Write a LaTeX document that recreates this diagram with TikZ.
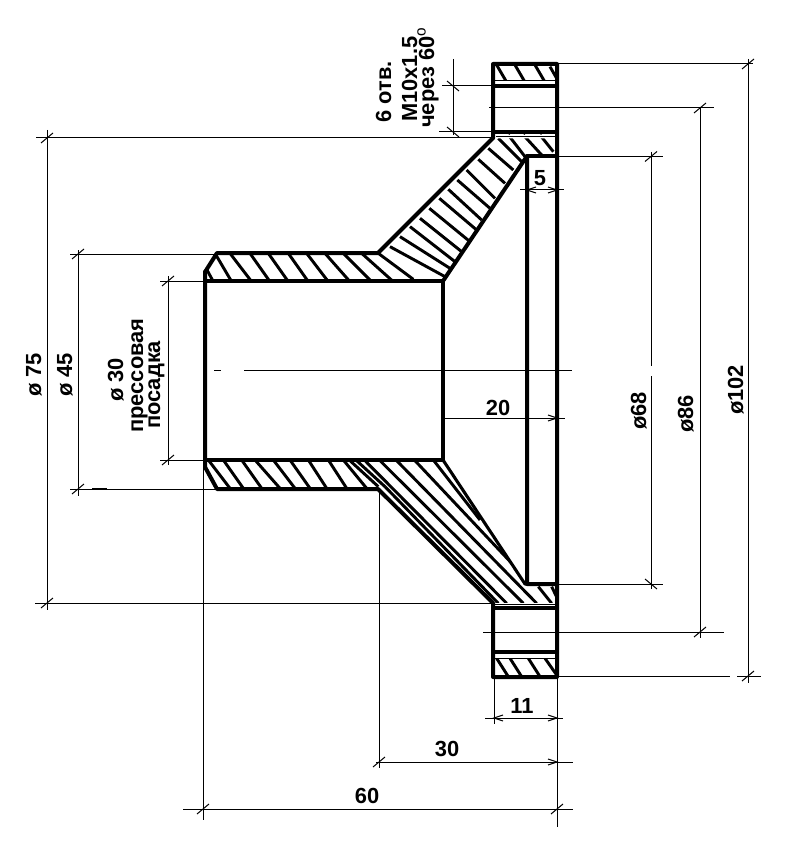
\documentclass[tikz,border=0pt]{standalone}
\usepackage{fontspec}
\setmainfont{Liberation Sans}
\newcommand{\hatchset}[3]{\foreach \a/\b/\c/\d in {#3}{\draw[hatchline] ({#1+\a/3},{#2+\b/3}) -- ({#1+\c/3},{#2+\d/3});}}
\newcommand{\tickup}[2]{\draw[thinline] ({#1-6},{#2+5}) -- ({#1+6},{#2-5});}
\newcommand{\tickdn}[2]{\draw[thinline] ({#1-6},{#2-5}) -- ({#1+6},{#2+5});}
\newcommand{\openR}[2]{\draw[thinline] ({#1-9},{#2-3}) -- (#1,#2) -- ({#1-9},{#2+3});}
\newcommand{\openL}[2]{\draw[thinline] ({#1+9},{#2-3}) -- (#1,#2) -- ({#1+9},{#2+3});}
\tikzset{
  thinline/.style={line width=0.75pt,black},
  hatchline/.style={line width=2.2pt,black},
  contour/.style={line width=3pt,black,line join=round,line cap=round},
  semithin/.style={line width=1.1pt,black},
  vtext/.style={rotate=90,anchor=base west,inner sep=0pt,font=\fontsize{16.4pt}{16.4pt}\selectfont\bfseries},
  htext/.style={anchor=base,inner sep=0pt,font=\fontsize{16.4pt}{16.4pt}\selectfont\bfseries}
}
\begin{document}
\begin{tikzpicture}[x=0.75pt,y=-0.75pt]
\useasboundingbox (0,0) rectangle (795,852);
% hatching
\begin{scope}
\clip (205,272) -- (217,253) -- (378,253) -- (493,138) -- (493,132) -- (557,132) -- (557,156) -- (527,156) -- (443,281) -- (205,281) -- cycle;
\hatchset{180}{230}{105/70/155/155,80/118/100/155,150/70/215/155,210/70/270/155,265/70/325/155,325/70/385/155,380/70/445/155,435/70/510/155,490/70/575/155,545/70/640/155}
\hatchset{370}{120}{385/55/455/125,355/85/430/150,325/118/405/190,290/150/375/235,262/180/360/265,235/208/335/300,208/235/320/330,178/265/300/365,150/295/275/395,120/320/255/425,90/350/240/445,60/380/225/470,25/400/130/478}
\hatchset{360}{20}{445/345/495/410,490/345/545/405,540/345/580/395}
\end{scope}
\begin{scope}
\clip (205,460) -- (205,467) -- (217,489) -- (378,489) -- (493,603) -- (493,608) -- (557,608) -- (557,584) -- (525,584) -- (443,460) -- cycle;
\hatchset{180}{230}{85/690/150/775,130/690/190/775,185/690/245/775,225/690/300/775,280/690/345/775,330/690/390/775,385/690/440/775,445/690/500/775,490/690/560/775}
\hatchset{350}{440}{0/62/85/140,20/62/105/140,105/140/445/490,45/62/470/490,90/62/520/490,140/62/560/490,195/62/490/375,250/60/390/240,565/440/605/490,605/440/622/475}
\end{scope}
% flange hatching
\begin{scope}
\clip (493,64) rectangle (557,86);
\hatchset{480}{50}{50/45/85/105,105/45/140/105,165/45/200/105,210/50/230/85}
\end{scope}
\begin{scope}
\clip (493,652) rectangle (557,677);
\hatchset{480}{575}{50/250/85/305,90/250/125/305,145/250/180/305,195/250/230/300}
\end{scope}
\fill[white] (495,80.5) rectangle (555,84) (495,135) rectangle (555,138.5) (495,603) rectangle (555,606.5) (495,655) rectangle (555,658.5);
\draw[thinline] (493,81) -- (557,81) (496,137) -- (557,137) (493,604.5) -- (557,604.5) (493,658) -- (557,658);
% contour
\draw[contour] (205,272) -- (217,253) -- (378,253) -- (493,138);
\draw[contour] (205,272) -- (205,467) -- (217,489) -- (378,489) -- (493,603) -- (493,677) -- (557,677) -- (557,64) -- (493,64) -- (493,138);
\draw[contour] (205,281) -- (443,281) -- (443,460) -- (205,460);
\draw[contour] (443,281) -- (527,156) -- (527,584) -- (557,584);
\draw[contour] (527,156) -- (557,156);
\draw[contour,line width=2.3pt] (443,460) -- (525,584) -- (527,584);
\draw[contour] (493,86) -- (557,86) (493,132) -- (557,132) (493,608) -- (557,608) (493,652) -- (557,652);
% centre lines
\draw[thinline] (214,370) -- (221,370) (244,370) -- (572,370);
\draw[thinline] (489,108) -- (714,108);
\draw[thinline] (483,632) -- (724,632);
% phi 102
\draw[thinline] (557,64) -- (753,64) (748,59) -- (748,683);
\draw[thinline] (557,676) -- (730,676) (737,676) -- (761,676);
\tickup{748}{64} \tickup{748}{676}
% phi 86
\draw[thinline] (700,108) -- (700,638);
\tickup{700}{108} \tickup{700}{632}
% phi 68
\draw[thinline] (557,156.5) -- (663,156.5) (557,584) -- (663,584);
\draw[thinline] (651,152) -- (651,366) (651,376) -- (651,589);
\tickup{651}{156.5} \tickdn{651}{584}
% phi 75
\draw[thinline] (36,138) -- (493,138) (35,603) -- (493,603) (47,130) -- (47,610);
\tickup{47}{138} \tickup{47}{603}
% phi 45
\draw[thinline] (70,254) -- (217,254) (70,489) -- (378,489) (78,250) -- (78,496);
\draw[semithin] (92,489) -- (107,489);
\tickup{78}{254} \tickup{78}{489}
% phi 30
\draw[thinline] (160,281) -- (205,281) (160,460) -- (205,460) (168,276) -- (168,465);
\tickup{168}{281} \tickup{168}{460}
% holes
\draw[thinline] (442,86) -- (493,86) (439,132) -- (493,132) (453,59) -- (453,135);
\tickdn{453}{86} \tickdn{453}{132}
% 5
\draw[thinline] (520,190) -- (564,190);
\openL{527}{190} \openR{557}{190}
% 20
\draw[thinline] (443,418) -- (565,418);
\openR{557}{418}
% 11
\draw[thinline] (494,677) -- (494,724) (485,718) -- (563,718);
\openL{494}{718} \openR{557}{718}
% 30
\draw[thinline] (379,489) -- (379,768) (376,762) -- (573,762);
\tickup{379}{762} \openR{557}{762}
% 60
\draw[thinline] (557,677) -- (557,827) (203,467) -- (203,820) (183,809) -- (573,809);
\tickup{203}{809} \tickup{557}{809}
% texts
\node[vtext] (t6) at (391,123) {6 отв.};
\node[vtext] (tm) at (417,122) {M10x1.5};
\node[vtext] (tc) at (434,128) {через 60$^{\mathrm{o}}$};
\node[vtext] (t75) at (41,397) {ø 75};
\node[vtext] (t45) at (72,397) {ø 45};
\node[vtext] (t30) at (123,402) {ø 30};
\node[vtext] (tp1) at (143,433) {прессовая};
\node[vtext] (tp2) at (160,429) {посадка};
\node[vtext] (t68) at (646,430) {ø68};
\node[vtext] (t86) at (693,433) {ø86};
\node[vtext] (t102) at (743,415) {ø102};
\node[htext] (h5) at (540,186) {5};
\node[htext] (h20) at (498,415) {20};
\node[htext] (h11) at (522,713) {11};
\node[htext] (h30) at (447,756) {30};
\node[htext] (h60) at (367,803) {60};
\end{tikzpicture}
\end{document}
